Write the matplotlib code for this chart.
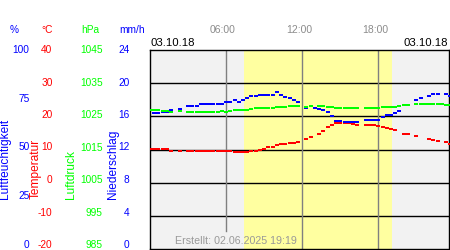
import matplotlib.pyplot as plt
import matplotlib.transforms as mtransforms
import numpy as np

nan = np.nan

# Time of each reading in hours (20 minute steps)
hours = np.arange(72) / 3.0

humidity = [nan, 68.3, 68.3, 68.8, 68.8, 69.6, nan, 70.6, nan, 71.9,
            71.9, 71.9, 72.9, 72.9, 72.9, 72.9, 72.9, 72.9, 73.9, 73.9,
            74.9, 73.9, 74.9, 75.9, 76.9, 76.9, 77.4, 77.4, 77.6, 77.6,
            78.9, 77.4, 76.6, 75.9, 74.9, 73.9, nan, 70.9, nan, 70.9,
            70.6, 69.8, 68.8, 66.6, 64.3, 64.3, 63.8, 63.8, 63.8, 63.8,
            nan, 64.6, 64.6, 64.6, 64.6, 66.1, 67.1, 67.1, 68.1, 69.3,
            nan, 72.6, nan, 74.9, 75.9, nan, 76.9, 77.9, 77.9, nan,
            77.9, 76.9]

pressure = [1026.9, 1026.9, 1026.9, 1026.6, 1026.6, 1026.3, nan, 1026.6, nan, 1026.3,
            1026.3, 1026.3, 1026.3, 1026.3, 1026.3, 1026.3, 1026.3, 1026.6, 1026.3, 1026.6,
            1026.9, 1026.9, 1026.9, 1026.9, 1027.2, 1027.5, 1027.5, 1027.5, 1027.5, 1027.5,
            1027.8, 1027.8, 1027.8, 1028.1, 1028.1, 1028.1, nan, 1027.8, 1028.1, nan,
            1028.0, 1028.0, 1027.8, 1027.8, 1027.5, 1027.5, 1027.5, 1027.5, 1027.5, 1027.5,
            nan, 1027.5, 1027.5, 1027.5, 1027.5, 1027.8, 1027.8, 1027.8, 1027.8, 1028.1,
            1028.3, 1028.3, nan, 1028.6, 1028.6, 1028.7, 1028.7, 1028.7, 1028.7, 1028.7,
            1028.4, 1028.4]

temperature = [10.15, 10.15, 10.15, 10.15, 10.15, 9.55, nan, 9.55, nan, 9.55,
               9.55, 9.55, 9.55, 9.55, 9.55, 9.55, 9.55, 9.55, 9.55, 9.55,
               9.25, 9.25, 9.25, 9.25, 9.4, 9.4, 9.7, 10.15, 10.75, 10.75,
               11.35, 11.65, 11.65, 11.95, 11.95, 12.25, nan, 13.15, 13.75, nan,
               14.8, 15.5, 16.8, 17.5, 18.0, 18.0, 18.0, 18.0, 17.8, 17.5,
               nan, 17.5, 17.5, 17.4, 17.1, 16.9, 16.5, 16.2, 15.9, nan,
               14.8, 14.8, nan, 14.2, nan, nan, 13.15, 13.0, 12.55, nan,
               12.25, 11.8]

# Axis scales (top to bottom)
hum_ticks = [100, 75, 50, 25, 0]
temp_ticks = [40, 30, 20, 10, 0, -10, -20]
pres_ticks = [1045, 1035, 1025, 1015, 1005, 995, 985]
rain_ticks = [24, 20, 16, 12, 8, 4, 0]

time_ticks = [6, 12, 18]
time_labels = ["06:00", "12:00", "18:00"]
sunrise, sunset = 7.4, 19.1
date_label = "03.10.18"
created = "Erstellt: 02.06.2025 19:19"

BLUE = "#0000ff"
RED = "#ff0000"
GREEN = "#00ff00"
GREY = "#8c8c8c"
FONT = "Liberation Sans"

fig = plt.figure(figsize=(4.5, 2.5), dpi=100)
ax = fig.add_axes([150 / 450, 1 / 250, 299 / 450, 199 / 250]) # temperature axis
ax.set_facecolor("#f2f2f2")
ax.set_xlim(0, 23.57)
ax.set_ylim(-20, 40)
ax.set_xticks([])
ax.set_yticks([])
for s in ax.spines.values():
    s.set_linewidth(1)
    s.set_color("black")

ax.axvspan(sunrise, sunset, color="#ffffa0", lw=0, zorder=0) # daylight
for t in temp_ticks[1:-1]:
    ax.axhline(t, color="black", lw=1, zorder=1)
ax.axvline(6, ymin=0.09, color="#808080", lw=1, zorder=1) # stops above the footer text
ax.axvline(12, color="#808080", lw=1, zorder=1)
ax.axvline(18, color="#808080", lw=1, zorder=1)

# One twin axis per quantity so each uses its own scale
ax_h = ax.twinx()
ax_h.set_ylim(0, 100)
ax_p = ax.twinx()
ax_p.set_ylim(985, 1045)
ax_r = ax.twinx()
ax_r.set_ylim(0, 24)
for a in (ax_h, ax_p, ax_r):
    a.set_xlim(ax.get_xlim())
    a.axis("off")

dash = [(-1, -0.65), (1, -0.65), (1, 0.65), (-1, 0.65)] # flat rectangle marker
ax_h.plot(hours, humidity, ls="none", marker=dash, ms=3.3, mew=0, color=BLUE)
ax_p.plot(hours, pressure, ls="none", marker=dash, ms=3.3, mew=0, color=GREEN)
ax.plot(hours, temperature, ls="none", marker=dash, ms=3.3, mew=0, color=RED, zorder=3)

# Scale labels on the left side
def scale_labels(axis, ticks, x_right, color):
    lo, hi = axis.get_ylim()
    trans = mtransforms.blended_transform_factory(fig.transFigure, axis.transData)
    for v in ticks:
        frac = (v - lo) / (hi - lo)
        tr = mtransforms.offset_copy(trans, fig=fig, y=4 * (1 - frac) * 0.72, units="points")
        fig.text(x_right / 450, v, str(v), transform=tr, ha="right", va="center",
                 color=color, fontsize=7.3, family=FONT)

scale_labels(ax_h, hum_ticks, 29.5, BLUE)
scale_labels(ax, temp_ticks, 52.5, RED)
scale_labels(ax_p, pres_ticks, 102.5, GREEN)
scale_labels(ax_r, rain_ticks, 129.5, BLUE)

# Units row
for x, txt, c in [(14, "%", BLUE), (47, "°C", RED), (90, "hPa", GREEN), (132, "mm/h", BLUE)]:
    fig.text(x / 450, 1 - 30 / 250, txt, ha="center", va="center", color=c, fontsize=7.3, family=FONT)

# Rotated names
for x, txt, c in [(5.5, "Luftfeuchtigkeit", BLUE), (36, "Temperatur", RED),
                  (71, "Luftdruck", GREEN), (113.5, "Niederschlag", BLUE)]:
    fig.text(x / 450, 1 - 199 / 250, txt, rotation=90, rotation_mode="anchor",
             ha="left", va="center", color=c, fontsize=8.6, family=FONT)

# Time labels above the plot
ttrans = mtransforms.blended_transform_factory(ax.transData, fig.transFigure)
ttrans = mtransforms.offset_copy(ttrans, fig=fig, x=-2.2, units="points")
for t, lab in zip(time_ticks, time_labels):
    fig.text(t, 1 - 30 / 250, lab, transform=ttrans, ha="center", va="center",
             color=GREY, fontsize=7.5, family=FONT)

fig.text(150.5 / 450, 1 - 43.5 / 250, date_label, ha="left", va="center", fontsize=8.2, family=FONT)
fig.text(448 / 450, 1 - 43.5 / 250, date_label, ha="right", va="center", fontsize=8.2, family=FONT)
fig.text(175 / 450, 1 - 241 / 250, created, ha="left", va="center", color="#999999",
         fontsize=7.7, family=FONT)

fig.savefig("out.png", dpi=100)
